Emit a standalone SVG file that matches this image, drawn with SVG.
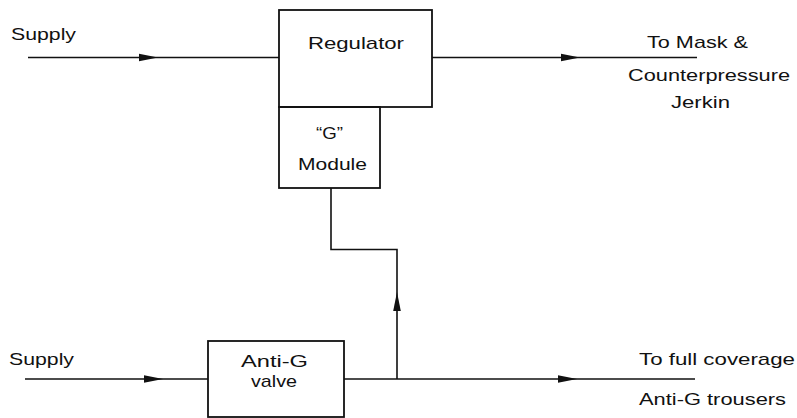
<svg xmlns="http://www.w3.org/2000/svg" xmlns:xlink="http://www.w3.org/1999/xlink" width="797" height="418" viewBox="0 0 797 418">
<style>
.box{fill:none;stroke:#111;stroke-width:1.8}
.ln{fill:none;stroke:#111;stroke-width:1.6}
.t{font-family:"Liberation Sans",Arial,sans-serif;fill:#111;font-size:17px}
</style>
<defs>
<path id="ah" d="M0,0 L-19,-3.8 L-19,3.8 Z" fill="#111"/>
</defs>
<rect width="797" height="418" fill="#fff"/>
<g id="connectors">
<path class="ln" d="M28,57.5 H279"/>
<use xlink:href="#ah" href="#ah" transform="translate(158,57.5)"/>
<path class="ln" d="M432,57.5 H697"/>
<use xlink:href="#ah" href="#ah" transform="translate(580,57.5)"/>
<path class="ln" d="M331,188 V249.5 H397 V379"/>
<use xlink:href="#ah" href="#ah" transform="translate(397,292) rotate(-90)"/>
<path class="ln" d="M25,379 H208"/>
<use xlink:href="#ah" href="#ah" transform="translate(163,379)"/>
<path class="ln" d="M344,379 H695"/>
<use xlink:href="#ah" href="#ah" transform="translate(577,379)"/>
</g>
<g id="supply-top">
<text class="t" x="11" y="40" font-size="16" textLength="65" lengthAdjust="spacingAndGlyphs">Supply</text>
</g>
<g id="regulator">
<rect class="box" x="279" y="10" width="153" height="97"/>
<text class="t" x="308" y="49" font-size="18" textLength="96" lengthAdjust="spacingAndGlyphs">Regulator</text>
</g>
<g id="g-module">
<rect class="box" x="279" y="107" width="101" height="81"/>
<text class="t" x="316" y="139" font-size="18" textLength="27" lengthAdjust="spacingAndGlyphs">“G”</text>
<text class="t" x="298" y="170" textLength="69" lengthAdjust="spacingAndGlyphs">Module</text>
</g>
<g id="mask-out">
<text class="t" x="647" y="48" font-size="18" textLength="101" lengthAdjust="spacingAndGlyphs">To Mask &amp;</text>
<text class="t" x="628" y="81" textLength="162" lengthAdjust="spacingAndGlyphs">Counterpressure</text>
<text class="t" x="671" y="108" textLength="59" lengthAdjust="spacingAndGlyphs">Jerkin</text>
</g>
<g id="supply-bottom">
<text class="t" x="9" y="365" font-size="16" textLength="65" lengthAdjust="spacingAndGlyphs">Supply</text>
</g>
<g id="anti-g-valve">
<rect class="box" x="208" y="341" width="136" height="76"/>
<text class="t" x="241" y="367" textLength="67" lengthAdjust="spacingAndGlyphs">Anti-G</text>
<text class="t" x="251" y="387" textLength="46" lengthAdjust="spacingAndGlyphs">valve</text>
</g>
<g id="trousers-out">
<text class="t" x="639" y="365" textLength="156" lengthAdjust="spacingAndGlyphs">To full coverage</text>
<text class="t" x="639" y="405" textLength="147" lengthAdjust="spacingAndGlyphs">Anti-G trousers</text>
</g>
</svg>
